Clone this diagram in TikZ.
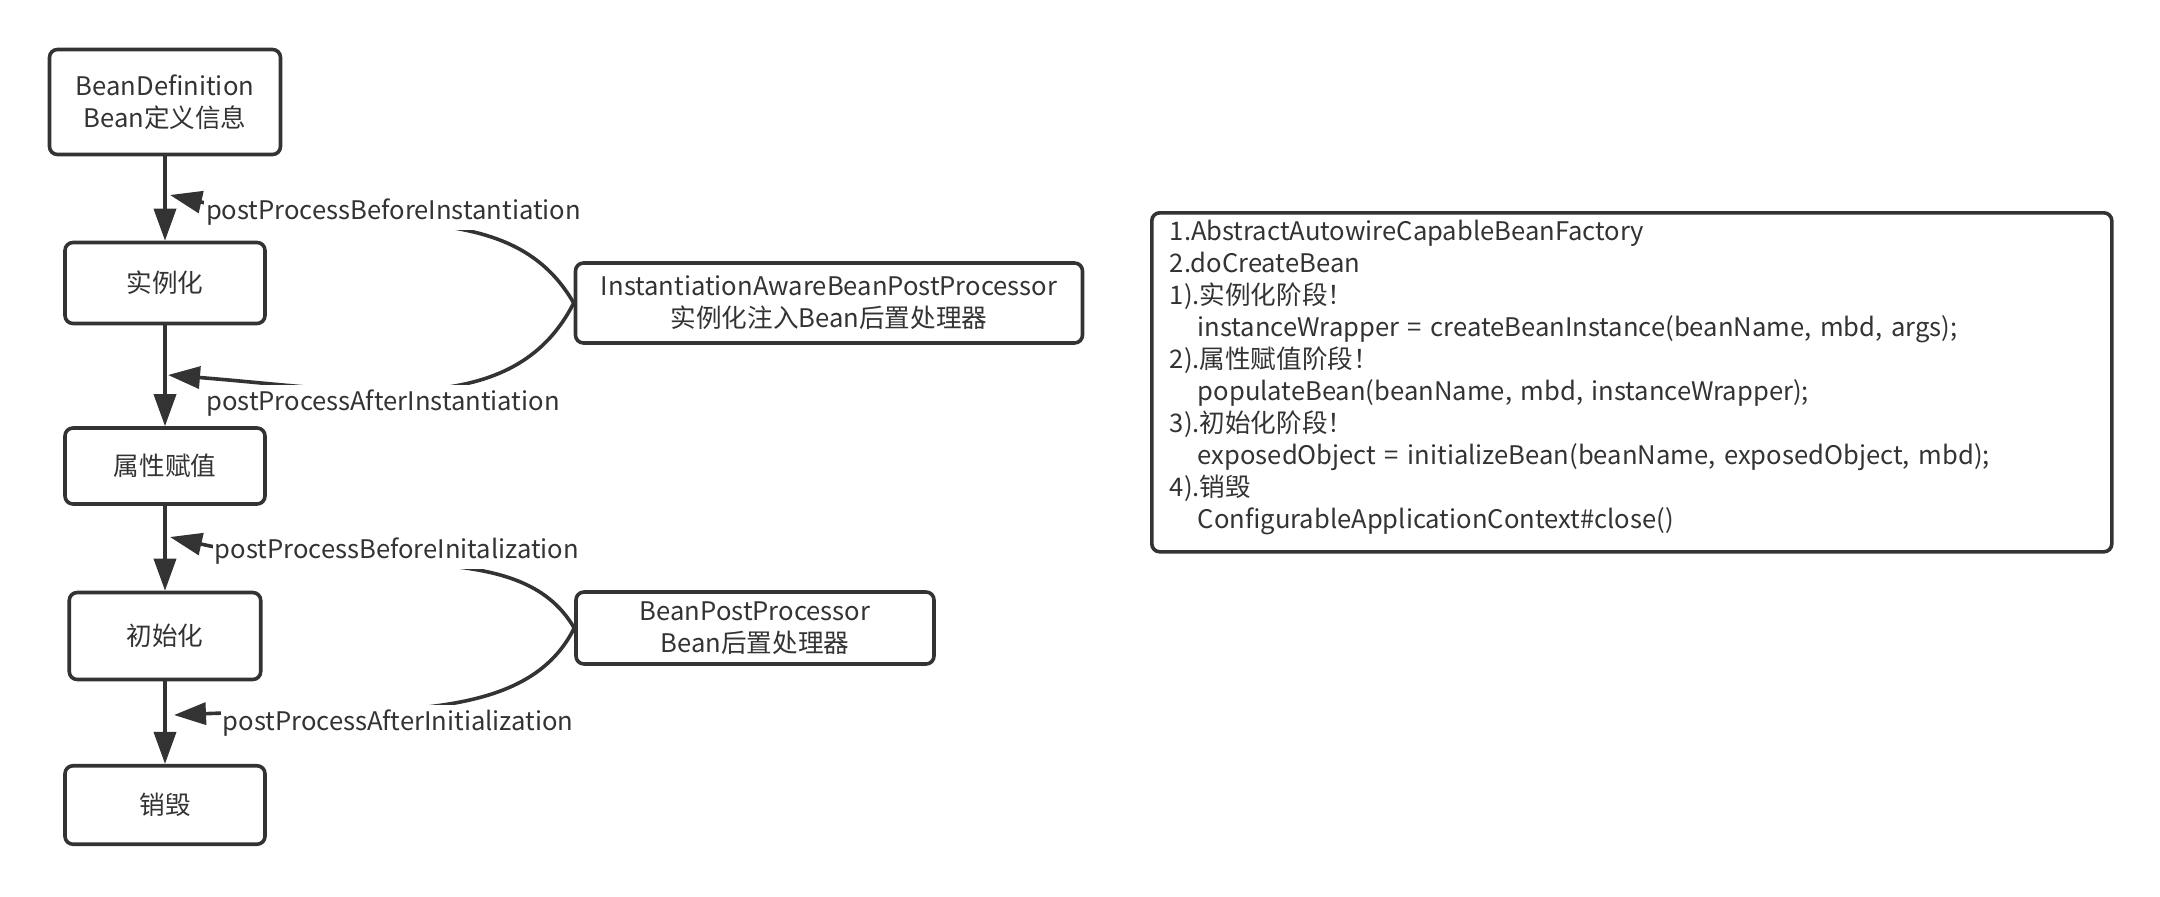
\documentclass[tikz,border=0pt]{standalone}
\usepackage{fontspec}
\setmainfont{Noto Sans CJK SC}
\usepackage{tikz}
\usetikzlibrary{arrows.meta}
\definecolor{trait}{HTML}{333333}
\newcommand{\taille}{\fontsize{12.8pt}{16pt}\selectfont}
\newcommand{\retrait}{\hspace*{14pt}}

\begin{document}
\begin{tikzpicture}[x=0.5pt,y=-0.5pt,
		etape/.style={draw=trait,line width=1.8pt,rounded corners=4pt,align=center,text=trait,font=\taille,inner sep=2pt},
		fleche/.style={draw=trait,line width=1.8pt,-{Triangle[length=16pt,width=11pt]}},
		etiquette/.style={fill=white,text=trait,font=\taille,inner xsep=1pt,inner ysep=2.5pt}]
		\useasboundingbox (0,0) rectangle (2160,896);
		% etapes du cycle
		\node[etape,minimum width=115.5pt,minimum height=52.5pt] (bd) at (165,102) {BeanDefinition\\Bean定义信息};
		\node[etape,minimum width=100pt,minimum height=40.5pt] (inst) at (165,283) {实例化};
		\node[etape,minimum width=100pt,minimum height=38pt] (popu) at (165,466) {属性赋值};
		\node[etape,minimum width=95.75pt,minimum height=43.5pt] (init) at (165,636) {初始化};
		\node[etape,minimum width=100pt,minimum height=39.25pt] (dest) at (165,805) {销毁};
		% processeurs
		\node[etape,minimum width=253.5pt,minimum height=40pt] (iabpp) at (829,303) {InstantiationAwareBeanPostProcessor\\实例化注入Bean后置处理器};
		\node[etape,minimum width=179pt,minimum height=36pt] (bpp) at (755,628) {BeanPostProcessor\\Bean后置处理器};
		% fleches verticales
		\draw[fleche] (bd) -- (inst);
		\draw[fleche] (inst) -- (popu);
		\draw[fleche] (popu) -- (init);
		\draw[fleche] (init) -- (dest);
		% points d'arrivee des courbes
		\coordinate (pbinst) at (170,195);
		\coordinate (painst) at (168,375);
		\coordinate (pbinit) at (170,537);
		\coordinate (painit) at (174,715);
		% courbes
		\draw[fleche] (iabpp.west) .. controls +(-65,-113) and +(194,44) .. (pbinst);
		\draw[fleche] (iabpp.west) .. controls +(-60,118) and +(200,16) .. (painst);
		\draw[fleche] (bpp.west) .. controls +(-55,-95) and +(194,44) .. (pbinit);
		\draw[fleche] (bpp.west) .. controls +(-50,102) and +(190,-8) .. (painit);
		% etiquettes
		\node[etiquette] (lbinst) at (393.5,212) {postProcessBeforeInstantiation};
		\node[etiquette] (lainst) at (383,403) {postProcessAfterInstantiation};
		\node[etiquette] (lbinit) at (397,551) {postProcessBeforeInitalization};
		\node[etiquette] (lainit) at (398,723) {postProcessAfterInitialization};
		% resume
		\node[etape,anchor=north west,minimum height=169.5pt,text width=462pt,align=left,inner xsep=9pt] (note) at (1150,211) {1.AbstractAutowireCapableBeanFactory\\
			2.doCreateBean\\
			1).实例化阶段！\\
			\retrait instanceWrapper = createBeanInstance(beanName, mbd, args);\\
			2).属性赋值阶段！\\
			\retrait populateBean(beanName, mbd, instanceWrapper);\\
			3).初始化阶段！\\
			\retrait exposedObject = initializeBean(beanName, exposedObject, mbd);\\
			4).销毁\\
			\retrait ConfigurableApplicationContext\#close()\rule[-8pt]{0pt}{0pt}};
	\end{tikzpicture}
\end{document}
